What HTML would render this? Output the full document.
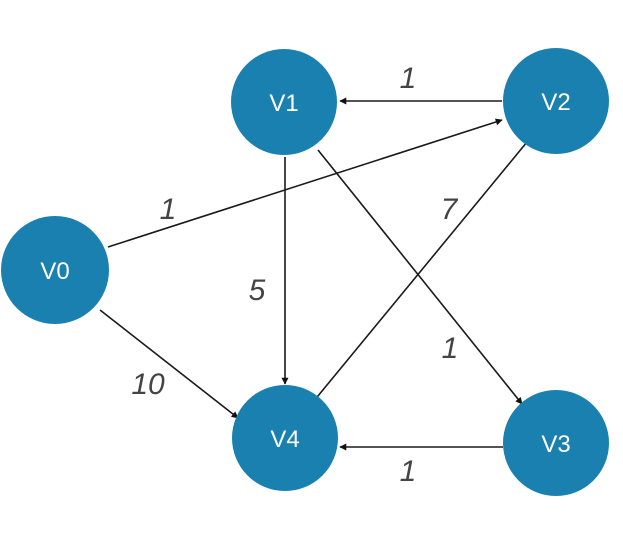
<!DOCTYPE html>
<html><head><meta charset="utf-8"><style>
html,body{margin:0;padding:0;background:#fff;width:623px;height:534px;overflow:hidden}
</style></head><body>
<svg width="623" height="534" viewBox="0 0 623 534" xmlns="http://www.w3.org/2000/svg">
<defs><marker id="a" viewBox="0 0 10 10" refX="9" refY="5" markerWidth="7" markerHeight="7" orient="auto" markerUnits="userSpaceOnUse"><path d="M0,0 L10,5 L0,10 z" fill="#111"/></marker></defs>
<g stroke="#1a1a1a" stroke-width="1.6" marker-end="url(#a)">
<line x1="502" y1="101" x2="340" y2="101"/>
<line x1="108" y1="247" x2="502" y2="120"/>
<line x1="285" y1="157" x2="285" y2="384"/>
<line x1="318" y1="150" x2="522" y2="404"/>
<line x1="527" y1="142" x2="313" y2="402"/>
<line x1="100" y1="310" x2="238" y2="418"/>
<line x1="503" y1="447" x2="340" y2="447"/>
</g>
<g fill="#1a80b0">
<circle cx="284" cy="102" r="53"/>
<circle cx="556" cy="101" r="53"/>
<circle cx="55" cy="270" r="54"/>
<circle cx="285" cy="438" r="53"/>
<circle cx="556" cy="443" r="53"/>
</g>
<g fill="#fff" font-family="Liberation Sans, sans-serif" font-size="24" text-anchor="middle">
<text x="284" y="111">V1</text>
<text x="556" y="110">V2</text>
<text x="55" y="279">V0</text>
<text x="285" y="447">V4</text>
<text x="556" y="452">V3</text>
</g>
<g fill="#444" font-family="Liberation Sans, sans-serif" font-size="30" font-style="italic" text-anchor="middle">
<text x="408" y="88">1</text>
<text x="168" y="219">1</text>
<text x="449" y="219">7</text>
<text x="257" y="300">5</text>
<text x="450" y="358">1</text>
<text x="148" y="394">10</text>
<text x="408" y="481">1</text>
</g>
</svg>
</body></html>
